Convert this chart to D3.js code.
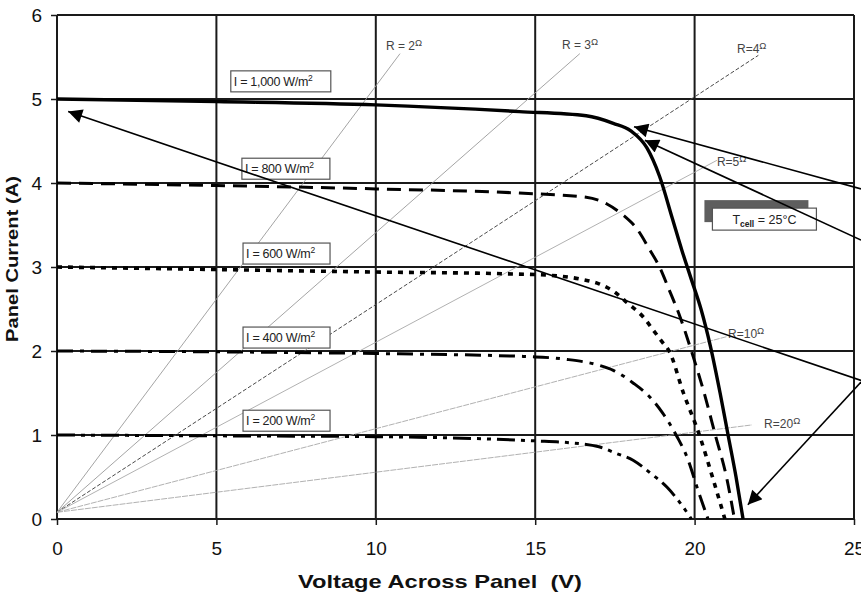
<!DOCTYPE html>
<html><head><meta charset="utf-8">
<script src="https://cdn.jsdelivr.net/npm/d3@7"></script>
<style>
html,body{margin:0;padding:0;background:#fff;}
text{font-family:"Liberation Sans",Arial,sans-serif;}
</style></head>
<body><svg id="chart" width="861" height="597"></svg>
<script>
// ---------- data ----------
const xTicks = [0, 5, 10, 15, 20, 25];
const yTicks = [0, 1, 2, 3, 4, 5, 6];
const irradianceLabels = ["I = 1,000 W/m", "I = 800 W/m", "I = 600 W/m", "I = 400 W/m", "I = 200 W/m"];
const volts1000 = [0, 5, 10, 14.5, 16.6, 17.45, 18, 18.5, 18.9, 19.3, 19.6, 19.9, 20.2, 20.5, 20.8, 21.05, 21.3, 21.52];
const amps1000  = [5.0, 4.97, 4.93, 4.85, 4.8, 4.71, 4.62, 4.42, 4.08, 3.58, 3.2, 2.85, 2.5, 2.05, 1.5, 1.0, 0.5, 0];
const volts800 = [0, 5, 10, 14.5, 16.6, 17.25, 17.75, 18.2, 18.6, 18.9, 19.2, 19.55, 19.9, 20.3, 20.65, 21.0, 21.25];
const amps800  = [4.0, 3.97, 3.93, 3.88, 3.83, 3.75, 3.62, 3.45, 3.2, 3.0, 2.73, 2.4, 2.0, 1.5, 1.0, 0.5, 0];
const volts600 = [0, 5, 10, 14, 15.5, 16.5, 17.0, 17.5, 17.9, 18.4, 18.7, 19.0, 19.2, 19.65, 20.15, 20.6, 20.95];
const amps600  = [3.0, 2.97, 2.94, 2.92, 2.9, 2.85, 2.8, 2.7, 2.57, 2.4, 2.25, 2.1, 2.0, 1.5, 1.0, 0.45, 0];
const volts400 = [0, 5, 10, 15, 16, 17, 17.45, 18.07, 18.6, 19.0, 19.45, 19.8, 20.1, 20.42];
const amps400  = [2.0, 1.99, 1.97, 1.93, 1.9, 1.83, 1.77, 1.62, 1.45, 1.26, 0.98, 0.7, 0.35, 0];
const volts200 = [0, 5, 10, 15, 16, 17, 17.55, 18.07, 18.6, 19.13, 19.55, 19.9];
const amps200  = [1.0, 0.99, 0.98, 0.93, 0.91, 0.86, 0.78, 0.7, 0.55, 0.38, 0.19, 0];
const loadLabels = ["R = 2", "R = 3", "R=4", "R=5", "R=10", "R=20"];
const loadStartV = [0, 0, 0, 0, 0, 0];
const loadStartI = [0.08, 0.08, 0.08, 0.08, 0.08, 0.08];
const loadEndV = [10.76, 16.4, 22.0, 20.7, 21.0, 21.8];
const loadEndI = [5.54, 5.54, 5.52, 4.27, 2.17, 1.12];
const tempLabel = ["T", "cell", " = 25°C"];

// ---------- layout / styles ----------
const svg = d3.select("#chart");
const x = d3.scaleLinear().domain([0, 25]).range([57, 854]);
const y = d3.scaleLinear().domain([0, 6]).range([519, 15]);

const curveStyles = [
  {w: 3.4, dash: null},
  {w: 3, dash: "14,8"},
  {w: 3.6, dash: "5,6"},
  {w: 3, dash: "16,7,4,7"},
  {w: 3, dash: "18,6,4,6,4,6"}
];
const loadStyles = [
  {c: "#9a9a9a", w: 0.9, dash: null},
  {c: "#9a9a9a", w: 0.9, dash: null},
  {c: "#4a4a4a", w: 1, dash: "4,2"},
  {c: "#a8a8a8", w: 0.9, dash: null},
  {c: "#a8a8a8", w: 0.9, dash: "6,1"},
  {c: "#a8a8a8", w: 0.9, dash: "6,1"}
];
// label positions (data units) for annotations
const boxPos = [[7.02, 5.21, 100], [7.18, 4.17, 88], [7.2, 3.16, 87], [7.2, 2.16, 87], [7.2, 1.17, 87]];
const loadLabelPos = [[10.32, 5.58], [15.84, 5.6], [21.33, 5.55], [20.7, 4.2], [21.05, 2.15], [22.18, 1.08]];
const arrows = [
  [[25.22, 3.93], [18.1, 4.67]],
  [[25.22, 3.32], [18.44, 4.51]],
  [[25.22, 1.65], [0.35, 4.85]],
  [[25.22, 1.63], [21.67, 0.17]]
];

// ---------- grid ----------
const grid = svg.append("g");
grid.selectAll("line.v").data(xTicks).join("line")
  .attr("x1", d => x(d)).attr("x2", d => x(d)).attr("y1", y(6)).attr("y2", y(0))
  .attr("stroke", "#1a1a1a").attr("stroke-width", 2);
grid.selectAll("line.h").data(yTicks).join("line")
  .attr("x1", x(0)).attr("x2", x(25)).attr("y1", d => y(d)).attr("y2", d => y(d))
  .attr("stroke", "#1a1a1a").attr("stroke-width", 2);

// axes
const xAxis = svg.append("g").attr("transform", `translate(0,${y(0)})`)
  .call(d3.axisBottom(x).tickValues(xTicks).tickSize(6).tickPadding(17).tickFormat(d3.format("d")));
const yAxis = svg.append("g").attr("transform", `translate(${x(0)},0)`)
  .call(d3.axisLeft(y).tickValues(yTicks).tickSize(6).tickPadding(9).tickFormat(d3.format("d")));
[xAxis, yAxis].forEach(a => {
  a.select(".domain").remove();
  a.selectAll(".tick line").attr("stroke", "#1a1a1a").attr("stroke-width", 1.5);
  a.selectAll(".tick text").attr("font-size", 19).attr("fill", "#111")
    .attr("font-family", '"Liberation Sans",Arial,sans-serif');
});

// axis titles
svg.append("text").attr("x", 440).attr("y", 588).attr("text-anchor", "middle")
  .attr("font-size", 19).attr("font-weight", "bold").attr("fill", "#111")
  .attr("textLength", 284).attr("lengthAdjust", "spacingAndGlyphs")
  .style("white-space", "pre").text("Voltage Across Panel  (V)");
svg.append("text").attr("transform", "translate(18,259) rotate(-90)").attr("text-anchor", "middle")
  .attr("font-size", 17).attr("font-weight", "bold").attr("fill", "#111")
  .attr("textLength", 166).attr("lengthAdjust", "spacingAndGlyphs")
  .text("Panel Current (A)");

// ---------- load lines ----------
const loadG = svg.append("g");
loadLabels.forEach((lab, i) => {
  loadG.append("line")
    .attr("x1", x(loadStartV[i])).attr("y1", y(loadStartI[i]))
    .attr("x2", x(loadEndV[i])).attr("y2", y(loadEndI[i]))
    .attr("stroke", loadStyles[i].c).attr("stroke-width", loadStyles[i].w)
    .attr("stroke-dasharray", loadStyles[i].dash);
  const t = loadG.append("text").attr("x", x(loadLabelPos[i][0])).attr("y", y(loadLabelPos[i][1]))
    .attr("font-size", 12).attr("fill", "#444").style("white-space", "pre");
  t.append("tspan").text(lab);
  t.append("tspan").attr("dy", -4).attr("font-size", 9.5).text("Ω");
});

// ---------- I-V curves ----------
const series = [[volts1000, amps1000], [volts800, amps800], [volts600, amps600], [volts400, amps400], [volts200, amps200]];
const line = d3.line().x(d => x(d[0])).y(d => y(d[1])).curve(d3.curveMonotoneX);
series.forEach((s, i) => {
  const pts = s[0].map((v, k) => [v, s[1][k]]);
  svg.append("path").attr("d", line(pts)).attr("fill", "none")
    .attr("stroke", "#000").attr("stroke-width", curveStyles[i].w)
    .attr("stroke-dasharray", curveStyles[i].dash).attr("stroke-linejoin", "round");
});

// ---------- irradiance label boxes ----------
irradianceLabels.forEach((lab, i) => {
  const cx = x(boxPos[i][0]), cy = y(boxPos[i][1]), w = boxPos[i][2], h = 21;
  const g = svg.append("g");
  g.append("rect").attr("x", cx - w / 2).attr("y", cy - h / 2).attr("width", w).attr("height", h)
    .attr("fill", "#fff").attr("stroke", "#555").attr("stroke-width", 1.2);
  const t = g.append("text").attr("x", cx - w / 2 + 3).attr("y", cy + 4.5)
    .attr("font-size", 12.5).attr("fill", "#222").attr("letter-spacing", -0.3);
  t.append("tspan").text(lab);
  t.append("tspan").attr("dy", -5).attr("font-size", 8.5).text("2");
});

// ---------- temperature box ----------
{
  const cx = x(22.19), cy = y(3.57), w = 104, h = 22;
  svg.append("rect").attr("x", cx - w / 2 - 8).attr("y", cy - h / 2 - 8).attr("width", w).attr("height", h)
    .attr("fill", "#5e5e5e");
  svg.append("rect").attr("x", cx - w / 2).attr("y", cy - h / 2).attr("width", w).attr("height", h)
    .attr("fill", "#fff").attr("stroke", "#555").attr("stroke-width", 1.2);
  const t = svg.append("text").attr("x", cx).attr("y", cy + 4.5).attr("text-anchor", "middle")
    .attr("font-size", 12.5).attr("fill", "#222");
  t.append("tspan").text(tempLabel[0]);
  t.append("tspan").attr("dy", 3).attr("font-size", 8.5).attr("font-weight", "bold").text(tempLabel[1]);
  t.append("tspan").attr("dy", -3).text(tempLabel[2]);
}

// ---------- arrows ----------
const defs = svg.append("defs");
defs.append("marker").attr("id", "ah").attr("viewBox", "0 0 10 10").attr("refX", 10).attr("refY", 5)
  .attr("markerWidth", 20).attr("markerHeight", 14).attr("markerUnits", "userSpaceOnUse")
  .attr("orient", "auto")
  .append("path").attr("d", "M0,0 L10,5 L0,10 z").attr("fill", "#000");
arrows.forEach(a => {
  svg.append("line").attr("x1", x(a[0][0])).attr("y1", y(a[0][1]))
    .attr("x2", x(a[1][0])).attr("y2", y(a[1][1]))
    .attr("stroke", "#000").attr("stroke-width", 1.6).attr("marker-end", "url(#ah)");
});
</script></body></html>
